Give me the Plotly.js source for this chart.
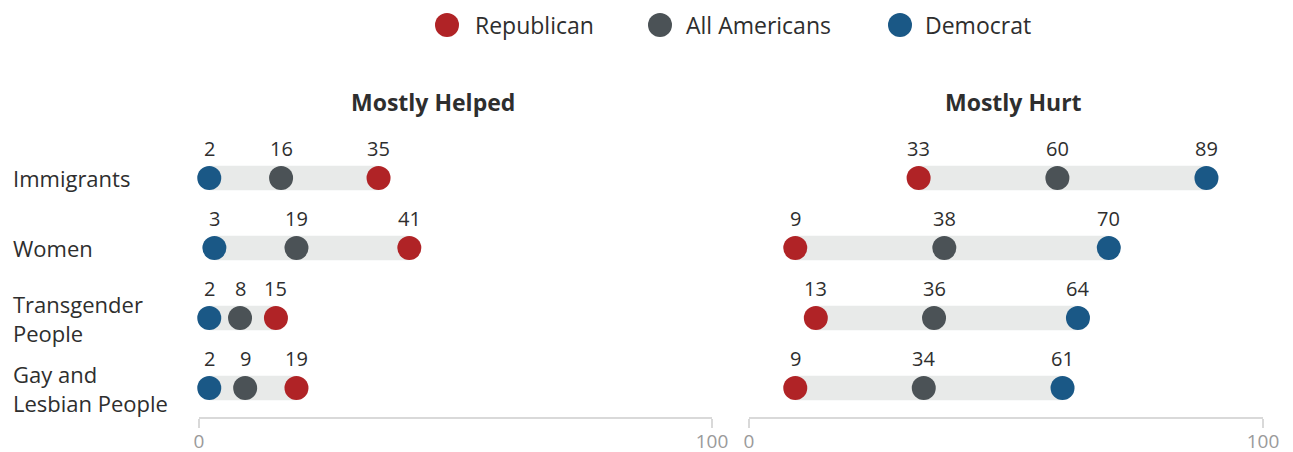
<!DOCTYPE html>
<html>
<head>
<meta charset="utf-8">
<script src="https://cdn.plot.ly/plotly-3.0.1.min.js"></script>
<style>
html,body{margin:0;padding:0;background:#fff;}
#chart{width:1293px;height:452px;}
</style>
</head>
<body>
<div id="chart"></div>
<script>
// ---- data ----
var categories = ['Immigrants', 'Women', 'Transgender People', 'Gay and Lesbian People'];
var categoryLabels = ['Immigrants', 'Women', 'Transgender<br>People', 'Gay and<br>Lesbian People'];
var seriesNames = ['Republican', 'All Americans', 'Democrat'];
var panelTitles = ['Mostly Helped', 'Mostly Hurt'];

var helpedRepublican = [35, 41, 15, 19];
var helpedAll = [16, 19, 8, 9];
var helpedDemocrat = [2, 3, 2, 2];

var hurtRepublican = [33, 9, 13, 9];
var hurtAll = [60, 38, 36, 34];
var hurtDemocrat = [89, 70, 64, 61];

var axisTicks = [0, 100];

// ---- styles ----
var colors = {'Republican': '#B02326', 'All Americans': '#4B5256', 'Democrat': '#1A5886'};
var barColor = '#E8EAE9';
var textColor = '#2E2E2E';
var FONT = '"Open Sans", "Noto Sans", sans-serif';
var W = 1293, H = 452;
function px(x) { return x / W; }
function py(y) { return 1 - y / H; }

var panels = [
  {xa: 'x', series: [helpedRepublican, helpedAll, helpedDemocrat]},
  {xa: 'x2', series: [hurtRepublican, hurtAll, hurtDemocrat]}
];

var traces = [];
var annotations = [];

panels.forEach(function (p, pi) {
  var mins = categories.map(function (c, i) {
    return Math.min(p.series[0][i], p.series[1][i], p.series[2][i]);
  });
  var maxs = categories.map(function (c, i) {
    return Math.max(p.series[0][i], p.series[1][i], p.series[2][i]);
  });
  traces.push({
    type: 'bar', orientation: 'h', xaxis: p.xa, yaxis: 'y',
    y: categories,
    base: mins,
    x: maxs.map(function (m, i) { return m - mins[i]; }),
    width: 0.35,
    marker: {color: barColor, line: {width: 0}},
    showlegend: false, hoverinfo: 'skip'
  });
  seriesNames.forEach(function (name, si) {
    traces.push({
      type: 'scatter', mode: 'markers', xaxis: p.xa, yaxis: 'y',
      name: name,
      x: p.series[si], y: categories,
      marker: {size: 24, color: colors[name], line: {width: 0}},
      showlegend: false, hoverinfo: 'skip', cliponaxis: false
    });
    p.series[si].forEach(function (v, i) {
      annotations.push({
        xref: p.xa, yref: 'y', x: v, y: categories[i],
        text: String(v), showarrow: false, yshift: 30,
        font: {family: FONT, size: 20, color: textColor}
      });
    });
  });
});

// category labels
categories.forEach(function (c, i) {
  annotations.push({
    xref: 'paper', yref: 'y', x: px(11), y: c, xanchor: 'left',
    align: 'left', text: categoryLabels[i], showarrow: false,
    font: {family: FONT, size: 22, color: textColor}
  });
});

// panel titles
var titleX = [433, 1013];
panelTitles.forEach(function (t, i) {
  annotations.push({
    xref: 'paper', yref: 'paper', x: px(titleX[i]), y: py(102),
    xanchor: 'center', yanchor: 'middle', text: '<b>' + t + '</b>',
    showarrow: false, font: {family: FONT, size: 23, color: textColor}
  });
});

// legend
var legendCircleX = [447, 660, 900];
var legendTextX = [473, 684, 923];
var shapes = [];
seriesNames.forEach(function (name, i) {
  shapes.push({
    type: 'circle', xref: 'paper', yref: 'paper',
    xsizemode: 'pixel', ysizemode: 'pixel',
    xanchor: px(legendCircleX[i]), yanchor: py(25),
    x0: -12, x1: 12, y0: -12, y1: 12,
    fillcolor: colors[name], line: {width: 0}
  });
  annotations.push({
    xref: 'paper', yref: 'paper', x: px(legendTextX[i]), y: py(25),
    xanchor: 'left', yanchor: 'middle', text: name, showarrow: false,
    font: {family: FONT, size: 23, color: textColor}
  });
});

var xaxisBase = {
  range: [0, 100], tickvals: axisTicks, ticktext: axisTicks.map(String),
  showgrid: false, zeroline: false, showline: true,
  linecolor: '#D9D9D9', linewidth: 2,
  ticks: 'outside', ticklen: 9, tickwidth: 2, tickcolor: '#D9D9D9',
  ticklabelstandoff: -3,
  tickfont: {family: FONT, size: 19, color: '#9A9A9A'},
  fixedrange: true, anchor: 'y'
};

var layout = {
  width: W, height: H,
  margin: {l: 0, r: 0, t: 0, b: 0},
  paper_bgcolor: '#fff', plot_bgcolor: 'rgba(0,0,0,0)',
  showlegend: false, hovermode: false, barmode: 'overlay',
  xaxis: Object.assign({}, xaxisBase, {domain: [px(199), px(712)]}),
  xaxis2: Object.assign({}, xaxisBase, {domain: [px(749), px(1263)]}),
  yaxis: {
    type: 'category', categoryorder: 'array', categoryarray: categories,
    range: [3.414, -0.686], domain: [py(417), py(130)],
    visible: false, fixedrange: true, anchor: 'x'
  },
  annotations: annotations,
  shapes: shapes,
  font: {family: FONT, color: textColor}
};

Plotly.newPlot('chart', traces, layout, {displayModeBar: false, staticPlot: true});
</script>
</body>
</html>
